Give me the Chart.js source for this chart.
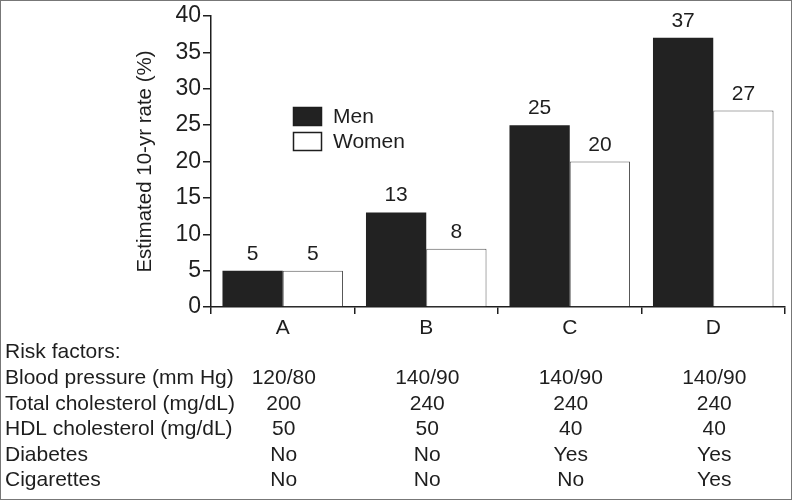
<!DOCTYPE html>
<html lang="en">
<head>
  <meta charset="UTF-8" />
  <title>Estimated 10-yr rate</title>
  <script src="https://cdn.jsdelivr.net/npm/chart.js"></script>
  <style>
    html, body { margin: 0; padding: 0; background: #fff; }
    #wrap { width: 792px; height: 500px; }
  </style>
</head>
<body>
  <div id="wrap"><canvas id="riskChart" width="792" height="500"></canvas></div>

  <script>
    // chart data
    const categories = ["A", "B", "C", "D"];
    const menRates = [5, 13, 25, 37];
    const womenRates = [5, 8, 20, 27];
    const seriesNames = ["Men", "Women"];

    // risk factor table under the axis
    const factorTitle = "Risk factors:";
    const factorNames = ["Blood pressure (mm Hg)", "Total cholesterol (mg/dL)", "HDL cholesterol (mg/dL)", "Diabetes", "Cigarettes"];
    const bloodPressure = ["120/80", "140/90", "140/90", "140/90"];
    const totalChol = ["200", "240", "240", "240"];
    const hdlChol = ["50", "50", "40", "40"];
    const diabetes = ["No", "No", "Yes", "Yes"];
    const cigarettes = ["No", "No", "No", "Yes"];
    const factorRows = [bloodPressure, totalChol, hdlChol, diabetes, cigarettes];

    const FONT = "'Liberation Sans', Arial, sans-serif";
    const INK = "#1e1e1e";
    Chart.defaults.font.family = FONT;
    Chart.defaults.color = INK;

    const extras = {
      id: "extras",
      afterDatasetsDraw(chart) {
        const ctx = chart.ctx;
        ctx.save();

        // value labels above the bars
        ctx.fillStyle = INK;
        ctx.font = "21px " + FONT;
        ctx.textAlign = "center";
        ctx.textBaseline = "alphabetic";
        chart.data.datasets.forEach((ds, di) => {
          chart.getDatasetMeta(di).data.forEach((bar, i) => {
            ctx.fillText(String(ds.data[i]), bar.x, bar.y - 11);
          });
        });

        // legend inside the plot
        ctx.textAlign = "left";
        ctx.textBaseline = "middle";
        ctx.font = "21px " + FONT;
        const lx = 293, ly = [107, 132];
        chart.data.datasets.forEach((ds, di) => {
          ctx.fillStyle = ds.backgroundColor;
          ctx.fillRect(lx, ly[di], 29, 19);
          ctx.lineWidth = 1.5;
          ctx.strokeStyle = INK;
          ctx.strokeRect(lx + 0.5, ly[di] + 0.5, 28, 18);
          ctx.fillStyle = INK;
          ctx.fillText(ds.label, 333, ly[di] + 10);
        });

        // risk factor table
        const x = chart.scales.x;
        ctx.font = "21px " + FONT;
        ctx.fillStyle = INK;
        ctx.textAlign = "left";
        ctx.fillText(factorTitle, 5, 352);
        const rowY = [378, 404, 429, 455, 480];
        factorNames.forEach((name, r) => {
          ctx.textAlign = "left";
          ctx.fillText(name, 5, rowY[r]);
          ctx.textAlign = "center";
          factorRows[r].forEach((v, i) => {
            ctx.fillText(v, x.getPixelForValue(i) + 1, rowY[r]);
          });
        });

        // thin frame round the picture
        ctx.strokeStyle = "#777";
        ctx.lineWidth = 1;
        ctx.strokeRect(0.5, 0.5, chart.width - 1, chart.height - 1);
        ctx.restore();
      }
    };

    new Chart(document.getElementById("riskChart"), {
      type: "bar",
      data: {
        labels: categories,
        datasets: [
          {
            label: seriesNames[0],
            data: menRates,
            backgroundColor: "#222222",
            borderColor: "#222222",
            borderWidth: 0,
          },
          {
            label: seriesNames[1],
            data: womenRates,
            backgroundColor: "#ffffff",
            borderColor: "#555555",
            borderWidth: 1,
          },
        ],
      },
      options: {
        responsive: false,
        animation: false,
        layout: { padding: { left: 133, right: 7, top: 16, bottom: 0 } },
        plugins: {
          legend: { display: false },
          tooltip: { enabled: false },
        },
        datasets: { bar: { categoryPercentage: 0.84, barPercentage: 1 } },
        scales: {
          x: {
            offset: true,
            grid: { display: true, drawOnChartArea: false, tickLength: 7, color: INK, lineWidth: 1.5, offset: true },
            border: { color: INK, width: 1.5 },
            ticks: { font: { size: 21 }, color: INK, padding: 2 },
            afterFit: (s) => { s.height = 193; },
          },
          y: {
            min: 0,
            max: 40,
            ticks: { stepSize: 5, font: { size: 23 }, color: INK, padding: 2 },
            grid: { display: true, drawOnChartArea: false, tickLength: 8, color: INK, lineWidth: 1.5 },
            border: { color: INK, width: 1.5 },
            title: { display: true, text: "Estimated 10-yr rate (%)", font: { size: 20.5 }, color: INK, padding: 0 },
            afterFit: (s) => { s.width = 78; },
          },
        },
      },
      plugins: [extras],
    });
  </script>
</body>
</html>
